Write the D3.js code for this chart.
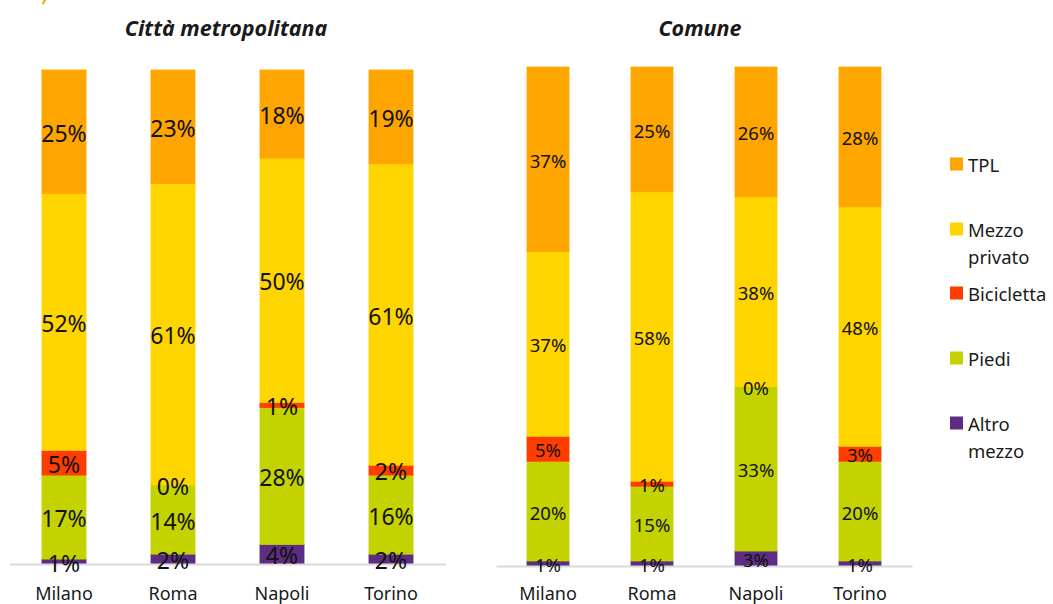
<!DOCTYPE html>
<html>
<head>
<meta charset="utf-8">
<script src="https://cdn.jsdelivr.net/npm/d3@7"></script>
<style>
  html, body { margin: 0; padding: 0; background: #fff; }
  svg { display: block; font-family: "Noto Sans", "Open Sans", sans-serif; }
</style>
</head>
<body>
<svg id="chart" width="1053" height="604"></svg>
<script>
// Cities on the x axis
const cities = ["Milano", "Roma", "Napoli", "Torino"];

// Transport modes, stacked from bottom to top
const modes = ["Altro mezzo", "Piedi", "Bicicletta", "Mezzo privato", "TPL"];

// Città metropolitana — modal share (%)
const metroTPL      = [25, 23, 18, 19];
const metroPrivato  = [52, 61, 50, 61];
const metroBici     = [5, 0, 1, 2];
const metroPiedi    = [17, 14, 28, 16];
const metroAltro    = [1, 2, 4, 2];

// Comune — modal share (%)
const comuneTPL     = [37, 25, 26, 28];
const comunePrivato = [37, 58, 38, 48];
const comuneBici    = [5, 1, 0, 3];
const comunePiedi   = [20, 15, 33, 20];
const comuneAltro   = [1, 1, 3, 1];

// Legend entries, top to bottom (multi-line labels)
const legendItems = [
  { key: "TPL",           lines: ["TPL"] },
  { key: "Mezzo privato", lines: ["Mezzo", "privato"] },
  { key: "Bicicletta",    lines: ["Bicicletta"] },
  { key: "Piedi",         lines: ["Piedi"] },
  { key: "Altro mezzo",   lines: ["Altro", "mezzo"] }
];

const colors = d3.scaleOrdinal()
  .domain(modes)
  .range(["#5c2d82", "#c4d300", "#ff3d00", "#ffd500", "#ffa500"]);

function buildRows(tpl, priv, bici, piedi, altro) {
  return cities.map((c, i) => ({
    city: c,
    "TPL": tpl[i],
    "Mezzo privato": priv[i],
    "Bicicletta": bici[i],
    "Piedi": piedi[i],
    "Altro mezzo": altro[i]
  }));
}

const svg = d3.select("#chart");

// Tiny orange mark in the top-left corner
svg.append("line")
  .attr("x1", 43).attr("y1", 3.5).attr("x2", 45).attr("y2", 0)
  .attr("stroke", "#ffa500").attr("stroke-width", 2).attr("stroke-linecap", "round");

function drawPanel(opts) {
  const rows = buildRows(...opts.series);
  const stack = d3.stack().keys(modes).offset(d3.stackOffsetExpand);
  const layers = stack(rows);

  const x = d3.scaleBand()
    .domain(cities)
    .range(opts.xRange)
    .paddingInner(0.596)
    .paddingOuter(0.298);

  const y = d3.scaleLinear().domain([0, 1]).range(opts.yRange);

  const g = svg.append("g");

  // Panel title
  g.append("text")
    .attr("x", opts.titleX)
    .attr("y", 27)
    .attr("text-anchor", "middle")
    .attr("dominant-baseline", "central")
    .attr("font-size", 21.5)
    .attr("font-weight", "bold")
    .attr("font-style", "italic")
    .attr("fill", "#1a1a1a")
    .text(opts.title);

  // Stacked segments
  const layerG = g.selectAll("g.layer")
    .data(layers)
    .join("g")
    .attr("class", "layer")
    .attr("fill", d => colors(d.key))
    .attr("stroke", d => colors(d.key));

  layerG.selectAll("rect")
    .data(d => d)
    .join("rect")
    .attr("x", d => x(d.data.city))
    .attr("width", x.bandwidth())
    .attr("y", d => y(d[1]))
    .attr("height", d => y(d[0]) - y(d[1]))
    .attr("stroke-width", 0.8);

  // Baseline axis with category labels
  const axis = d3.axisBottom(x).tickSize(0).tickPadding(0);
  const axG = g.append("g")
    .attr("transform", `translate(0,${opts.yRange[0]})`)
    .call(axis);
  axG.select(".domain").attr("stroke", "#d9d9d9").attr("stroke-width", 2);
  axG.selectAll("text")
    .attr("y", opts.tickY)
    .attr("dy", 0)
    .attr("dominant-baseline", "central")
    .attr("font-size", 18)
    .attr("font-family", "'Noto Sans', sans-serif")
    .attr("fill", "#1a1a1a");

  // Value labels, centred on each segment
  const labels = [];
  layers.forEach(layer => {
    layer.forEach(d => {
      labels.push({
        x: x(d.data.city) + x.bandwidth() / 2,
        y: (y(d[0]) + y(d[1])) / 2,
        v: d.data[layer.key]
      });
    });
  });

  g.selectAll("text.val")
    .data(labels)
    .join("text")
    .attr("class", "val")
    .attr("x", d => d.x)
    .attr("y", d => d.y + opts.labelShift)
    .attr("text-anchor", "middle")
    .attr("dominant-baseline", "central")
    .attr("font-size", opts.labelSize)
    .attr("fill", "#111")
    .text(d => d.v + "%");
}

drawPanel({
  title: "Città metropolitana",
  titleX: 226,
  series: [metroTPL, metroPrivato, metroBici, metroPiedi, metroAltro],
  xRange: [9.5, 445.5],
  yRange: [564, 70],
  tickY: 29,
  labelSize: 23,
  labelShift: 1
});

drawPanel({
  title: "Comune",
  titleX: 700,
  series: [comuneTPL, comunePrivato, comuneBici, comunePiedi, comuneAltro],
  xRange: [496, 912],
  yRange: [566, 67],
  tickY: 27,
  labelSize: 18.5,
  labelShift: 1
});

// Legend
const legendY = [164, 229, 293, 358, 423];
const lg = svg.append("g");
legendItems.forEach((item, i) => {
  const cy = legendY[i];
  lg.append("rect")
    .attr("x", 950).attr("y", cy - 6.5)
    .attr("width", 13).attr("height", 13)
    .attr("fill", colors(item.key));
  const t = lg.append("text")
    .attr("x", 968)
    .attr("y", cy)
    .attr("font-size", 18.5)
    .attr("fill", "#1a1a1a");
  item.lines.forEach((line, j) => {
    t.append("tspan")
      .attr("x", 968)
      .attr("y", cy + j * 27)
      .attr("dominant-baseline", "central")
      .text(line);
  });
});
</script>
</body>
</html>
